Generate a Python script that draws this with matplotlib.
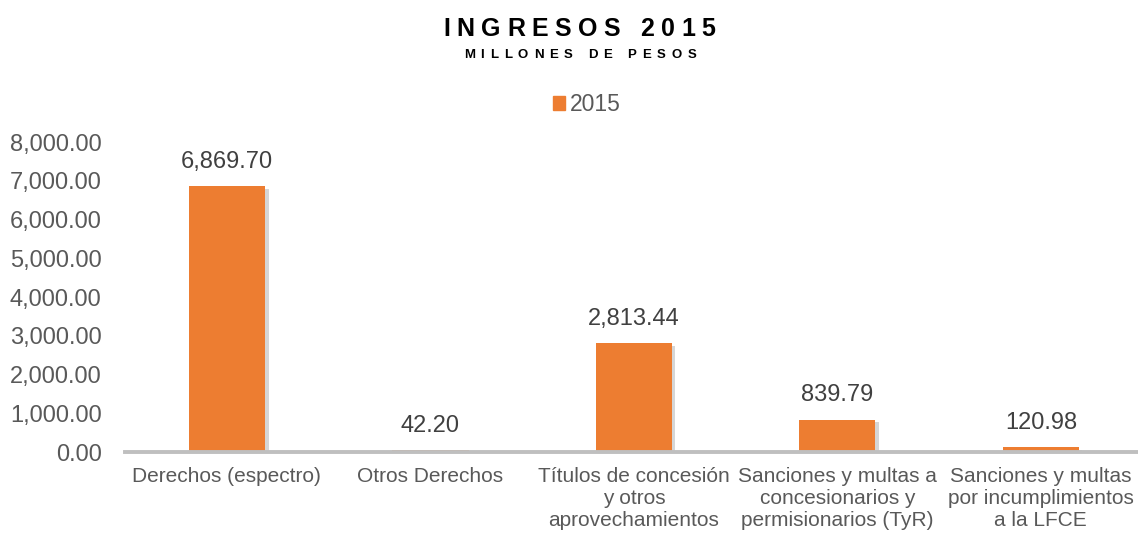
import matplotlib
matplotlib.use("Agg")
import matplotlib.pyplot as plt
import matplotlib.patheffects as pe
from matplotlib.patches import Patch
from matplotlib.font_manager import FontProperties
import numpy as np

# Ingresos 2015, millones de pesos
categories = [
    "Derechos (espectro)",
    "Otros Derechos",
    "Títulos de concesión\ny otros\naprovechamientos",
    "Sanciones y multas a\nconcesionarios y\npermisionarios (TyR)",
    "Sanciones y multas\npor incumplimientos\na la LFCE",
]
values_2015 = [6869.70, 42.20, 2813.44, 839.79, 120.98]
series_name = "2015"
y_ticks = [0, 1000, 2000, 3000, 4000, 5000, 6000, 7000, 8000]

BAR_COLOR = "#ED7D31"
TEXT_GRAY = "#595959"
FAMILY = ["Liberation Sans", "DejaVu Sans"]

plt.rcParams["font.family"] = FAMILY

FIG_W, FIG_H = 11.38, 5.35
DPI = 100
fig = plt.figure(figsize=(FIG_W, FIG_H), dpi=DPI)
ax = fig.add_axes([0.110, 0.155, 0.894, 0.5794])


def tracked_text(fig, xc, y, s, size, tracking, weight="bold", color="black"):
    """Draw centred text with extra letter spacing (tracking in pixels)."""
    prop = FontProperties(family=FAMILY, size=size, weight=weight)
    renderer = fig.canvas.get_renderer()

    def width(t):
        return renderer.get_text_width_height_descent(t, prop, ismath=False)[0]

    base = width("HH")
    advances = [width("H" + c + "H") - base for c in s]
    total = sum(advances) + tracking * (len(s) - 1)
    fig_w_px = FIG_W * DPI
    x = xc - total / 2 / fig_w_px
    for c, adv in zip(s, advances):
        if c != " ":
            fig.text(x, y, c, fontproperties=prop, color=color,
                     ha="left", va="baseline")
        x += (adv + tracking) / fig_w_px


x = np.arange(len(categories))
bars = ax.bar(x, values_2015, width=0.375, color=BAR_COLOR, zorder=3)
for b in bars:
    b.set_path_effects([pe.SimplePatchShadow(offset=(2.5, -2), shadow_rgbFace="#8c8c8c",
                                             alpha=0.35),
                        pe.Normal()])

for xi, v in zip(x, values_2015):
    ax.annotate(f"{v:,.2f}", (xi, v), xytext=(0, 13), textcoords="offset points",
                ha="center", va="baseline", fontsize=17, color="#404040")

ax.set_xlim(-0.5, len(categories) - 0.5)
ax.set_ylim(0, 8000)
ax.set_yticks(y_ticks)
ax.set_yticklabels([f"{t:,.2f}" for t in y_ticks])
ax.set_xticks(x)
ax.set_xticklabels(categories, fontsize=15, color=TEXT_GRAY, linespacing=1.19)
ax.tick_params(axis="y", length=0, pad=17, labelsize=17, labelcolor=TEXT_GRAY)
ax.tick_params(axis="x", length=0, pad=11)

for side in ["top", "right", "left"]:
    ax.spines[side].set_visible(False)
ax.spines["bottom"].set_color("#BFBFBF")
ax.spines["bottom"].set_linewidth(2.8)
ax.spines["bottom"].set_zorder(4)

tracked_text(fig, 0.509, 0.9333, "INGRESOS 2015", 18, 6.5)
tracked_text(fig, 0.5095, 0.891, "MILLONES DE PESOS", 9.5, 5.8)

ax.legend(handles=[Patch(color=BAR_COLOR, label=series_name)],
          loc="center", bbox_to_anchor=(0.5155, 0.804), bbox_transform=fig.transFigure,
          frameon=False, fontsize=16.5, labelcolor=TEXT_GRAY, handlelength=0.55,
          handleheight=0.55, handletextpad=0.2, borderaxespad=0, borderpad=0)

fig.savefig("out.png", dpi=DPI)
